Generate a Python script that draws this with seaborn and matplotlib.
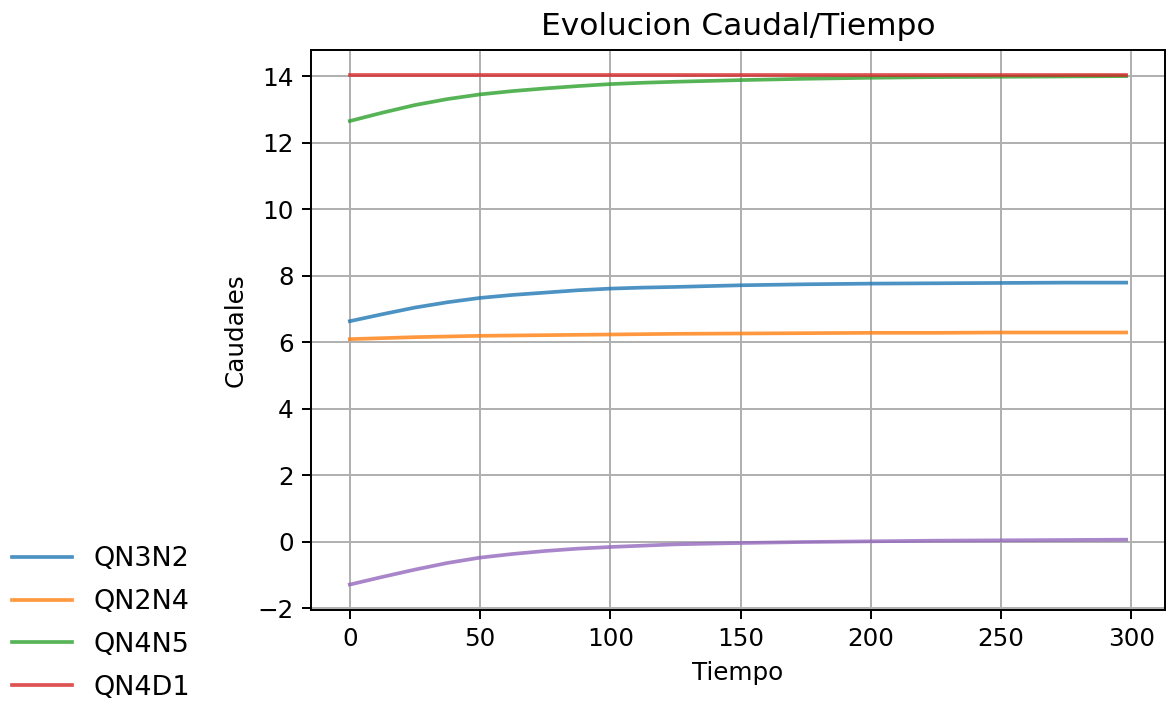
import matplotlib
matplotlib.use("Agg")
import matplotlib.pyplot as plt
import seaborn as sns
import pandas as pd

# Data
tiempo = [0, 12.5, 25, 37.5, 50, 62.5, 75, 87.5, 100, 112.5, 125, 150, 175, 200, 225, 250, 275, 298]
qn3n2 = [6.63, 6.84, 7.04, 7.20, 7.33, 7.42, 7.49, 7.56, 7.61, 7.64, 7.66, 7.71, 7.74, 7.76, 7.77, 7.78, 7.79, 7.79]
qn2n4 = [6.09, 6.12, 6.15, 6.17, 6.19, 6.20, 6.21, 6.22, 6.23, 6.24, 6.25, 6.26, 6.27, 6.28, 6.28, 6.29, 6.29, 6.29]
qn4n5 = [12.65, 12.90, 13.13, 13.31, 13.45, 13.55, 13.63, 13.70, 13.76, 13.80, 13.83, 13.88, 13.92, 13.95, 13.97, 13.98, 13.99, 14.00]
qn4d1 = [14.02] * len(tiempo)
qn_extra = [-1.29, -1.06, -0.84, -0.64, -0.48, -0.37, -0.28, -0.21, -0.16, -0.12, -0.08, -0.04, -0.01, 0.01, 0.03, 0.04, 0.05, 0.06]

legend_labels = ["QN3N2", "QN2N4", "QN4N5", "QN4D1"]
colors = ["#1f77b4", "#ff7f0e", "#2ca02c", "#d62728", "#9467bd"]

DPI = 177
fig = plt.figure(figsize=(1172 / DPI, 704 / DPI), dpi=DPI)
ax = fig.add_axes([311 / 1172, 0.1335, (1165 - 311) / 1172, 0.7955])

series = [qn3n2, qn2n4, qn4n5, qn4d1, qn_extra]
for i, vals in enumerate(series):
    df = pd.DataFrame({"Tiempo": tiempo, "Caudales": vals})
    sns.lineplot(data=df, x="Tiempo", y="Caudales", ax=ax, color=colors[i],
                 linewidth=1.5, alpha=0.8, legend=False)

ax.set_title("Evolucion Caudal/Tiempo", fontsize=12.7)
ax.set_xlabel("Tiempo")
ax.set_ylabel("Caudales")
ax.set_xticks([0, 50, 100, 150, 200, 250, 300])
ax.set_yticks([-2, 0, 2, 4, 6, 8, 10, 12, 14])
ax.grid(True, color="#b0b0b0", linewidth=0.8)
ax.set_axisbelow(True)

lines = ax.get_lines()[:4]
fig.legend(lines, legend_labels, loc="lower left", bbox_to_anchor=(-0.008, -0.026),
           frameon=False, fontsize=11, handlelength=2.2, borderpad=0.3,
           labelspacing=0.62)

fig.savefig("out.png", dpi=DPI)
